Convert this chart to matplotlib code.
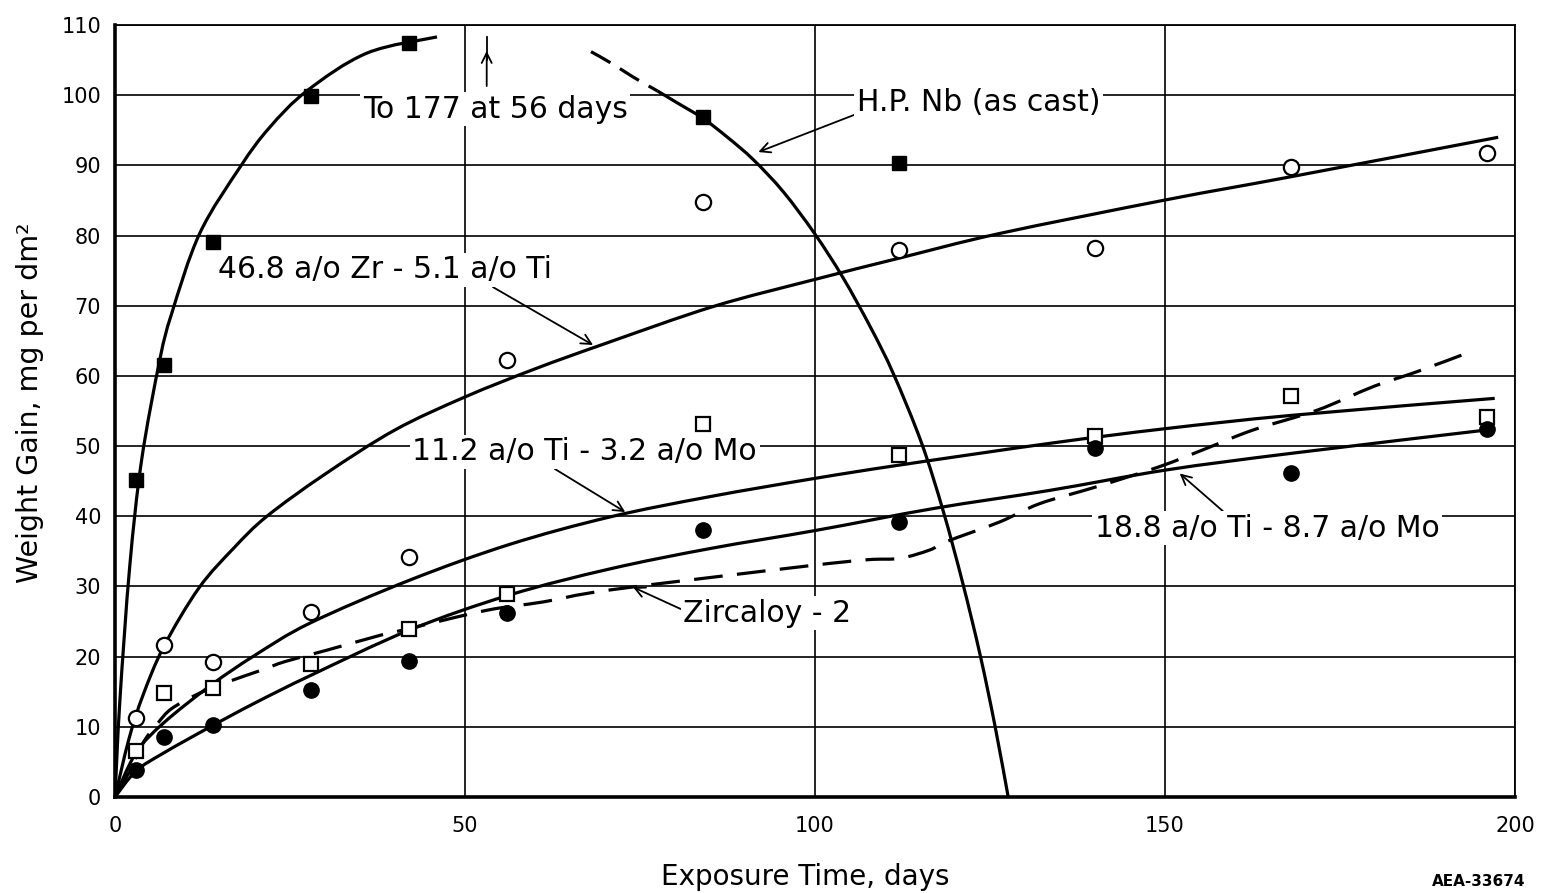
import numpy as np
import matplotlib
matplotlib.use("Agg")
import matplotlib.pyplot as plt
from matplotlib.path import Path
from matplotlib.patches import PathPatch

# measured points (days, mg per dm2)
nb_days = [3, 7, 14, 28, 42, 84, 112]
nb_gain = [45.2, 61.5, 79.1, 99.9, 107.4, 96.9, 90.4]

zrti_days = [3, 7, 14, 28, 42, 56, 84, 112, 140, 168, 196]
zrti_gain = [11.2, 21.7, 19.3, 26.4, 34.2, 62.3, 84.8, 77.9, 78.2, 89.8, 91.7]

ti11_days = [3, 7, 14, 28, 42, 56, 84, 112, 140, 168, 196]
ti11_gain = [6.5, 14.8, 15.5, 19.0, 23.9, 28.9, 53.2, 48.7, 51.4, 57.1, 54.2]

ti18_days = [3, 7, 14, 28, 42, 56, 84, 112, 140, 168, 196]
ti18_gain = [3.8, 8.6, 10.2, 15.2, 19.4, 26.2, 38.0, 39.2, 49.7, 46.2, 52.5]

# curves
nb_rise_x = [0, 0.7, 2.1, 3.8, 6.4, 8.1, 12.1, 17.9, 22, 27.4, 36, 46]
nb_rise_y = [0, 13.8, 32.8, 48, 62.3, 68.9, 80.3, 89.8, 95.3, 100.6, 106.0, 108.3]
nb_dash_x = [68, 71, 74, 77.5]
nb_dash_y = [106.2, 104.5, 102.6, 100.6]
nb_fall_x = [77.5, 80.5, 84, 87.5, 91.2, 95.5, 100, 104, 108, 111.2, 115.2, 118.3, 121.1, 123.6, 125.7, 127.6]
nb_fall_y = [100.6, 98.8, 96.7, 94.0, 90.8, 86.2, 80.2, 74.0, 66.8, 60.3, 50.5, 40.8, 30.5, 20.2, 10.2, 0]

zrti_cx = [0, 2, 4, 7, 12, 17, 21.7, 30, 40, 50, 60, 70, 85.5, 99.8, 112.1, 126.4, 150.2, 168.1, 197.6]
zrti_cy = [0, 8.3, 14.5, 21.5, 29.8, 35.5, 40, 46, 52.3, 57, 61, 64.6, 69.9, 73.7, 76.8, 80.3, 85.1, 88.4, 94.0]

ti11_cx = [0, 3, 7, 13.8, 20, 27.9, 42.1, 56.4, 70.7, 85, 100, 112.1, 133.6, 150.2, 168.3, 197.1]
ti11_cy = [0, 6.3, 10.6, 16.0, 20.2, 24.8, 30.9, 36.0, 39.9, 42.8, 45.4, 47.3, 50.4, 52.5, 54.4, 56.8]

ti18_cx = [0, 3, 7, 13.8, 20, 27.9, 42.1, 56.4, 70.7, 85, 100.2, 116.9, 133.6, 150.2, 168.3, 196]
ti18_cy = [0, 3.7, 6.3, 10.1, 13.4, 17.3, 23.8, 28.8, 32.5, 35.4, 38.0, 41.1, 43.7, 46.6, 49.0, 52.3]

zirc_x = [0, 2, 4, 6.1, 8.1, 12.1, 16.1, 21, 24.3, 30.2, 38.1, 41.2, 53.1, 61.2, 70.7, 97.9, 107.4,
          112.1, 116.4, 118.8, 126.4, 132.1, 140.2, 149.3, 156, 162.6, 171.7, 179.8, 186, 193.8]
zirc_y = [0, 3.5, 7.7, 10.5, 12.6, 14.8, 16.4, 18.1, 19.3, 20.9, 23.1, 23.8, 26.6, 27.8, 29.5, 32.8, 33.8,
          34.0, 35.2, 36.4, 39.2, 41.8, 44.2, 47.1, 49.7, 52.3, 55.1, 58.5, 60.6, 63.5]

xticks = [0, 50, 100, 150, 200]
yticks = list(range(0, 111, 10))


def smooth(xs, ys):
    # catmull-rom through the read points, drawn as bezier segments
    p = np.column_stack([xs, ys]).astype(float)
    verts = [p[0]]
    codes = [Path.MOVETO]
    for i in range(len(p) - 1):
        p0 = p[i - 1] if i > 0 else p[i]
        p3 = p[i + 2] if i + 2 < len(p) else p[i + 1]
        verts += [p[i] + (p[i + 1] - p0) / 6, p[i + 1] - (p3 - p[i]) / 6, p[i + 1]]
        codes += [Path.CURVE4] * 3
    return Path(verts, codes)


def curve(ax, xs, ys, ls='-'):
    ax.add_patch(PathPatch(smooth(xs, ys), fill=False, edgecolor='black', lw=2.3,
                           linestyle=ls, zorder=3, capstyle='butt'))


plt.rcParams['font.family'] = ['DejaVu Sans']

fig = plt.figure(figsize=(15.47, 8.93), dpi=100)
ax = fig.add_axes([115 / 1547, 1 - 797 / 893, 1400 / 1547, 772 / 893])
ax.set_xlim(0, 200)
ax.set_ylim(0, 110)

ax.set_xticks(xticks)
ax.set_yticks(yticks)
ax.tick_params(length=0, labelsize=15)
ax.tick_params(axis='y', pad=10)
ax.tick_params(axis='x', pad=14)
ax.grid(True, color='black', lw=1.2, zorder=0)
ax.set_axisbelow(True)
for s in ['left', 'bottom']:
    ax.spines[s].set_linewidth(2.6)
for s in ['top', 'right']:
    ax.spines[s].set_linewidth(1.3)

k = 'black'
curve(ax, nb_rise_x, nb_rise_y)
curve(ax, nb_dash_x, nb_dash_y, ls=(0, (7, 3.5)))
curve(ax, nb_fall_x, nb_fall_y)
curve(ax, zrti_cx, zrti_cy)
curve(ax, ti11_cx, ti11_cy)
curve(ax, ti18_cx, ti18_cy)
curve(ax, zirc_x, zirc_y, ls=(0, (9, 4.5)))

ax.plot(nb_days, nb_gain, 's', color=k, ms=10, zorder=4)
ax.plot(zrti_days, zrti_gain, 'o', mfc='white', mec=k, mew=1.6, ms=11, zorder=4)
ax.plot(ti11_days, ti11_gain, 's', mfc='white', mec=k, mew=1.6, ms=10, zorder=4)
ax.plot(ti18_days, ti18_gain, 'o', color=k, ms=11, zorder=4)

box = dict(facecolor='white', edgecolor='none', pad=2)
fs = 21.5
arr = dict(arrowstyle='->', lw=1.3, color=k, mutation_scale=18, shrinkA=0, shrinkB=0)
ax.text(54.3, 98.0, "To 177 at 56 days", fontsize=fs, ha='center', va='center', bbox=box, zorder=2)
ax.annotate("", xy=(53.1, 106.3), xytext=(53.1, 101.3), arrowprops=arr, zorder=2)
ax.plot([53.1, 53.1], [105, 108.3], color=k, lw=1.3, zorder=2)

ax.annotate("H.P. Nb (as cast)", xy=(91.9, 91.9), xytext=(106.0, 99.0), fontsize=fs,
            ha='left', va='center', bbox=box, zorder=2,
            arrowprops=dict(arr, relpos=(0, 0.1)))
ax.annotate("46.8 a/o Zr - 5.1 a/o Ti", xy=(68.3, 64.4), xytext=(14.7, 75.1), fontsize=fs,
            ha='left', va='center', bbox=box, zorder=2,
            arrowprops=dict(arr, relpos=(0.81, 0)))
ax.annotate("11.2 a/o Ti - 3.2 a/o Mo", xy=(72.9, 40.6), xytext=(42.5, 49.2), fontsize=fs,
            ha='left', va='center', bbox=box, zorder=2,
            arrowprops=dict(arr, relpos=(0.4, 0)))
ax.annotate("Zircaloy - 2", xy=(74.0, 29.9), xytext=(81.2, 26.2), fontsize=fs,
            ha='left', va='center', bbox=box, zorder=2,
            arrowprops=dict(arr, relpos=(0, 0.6)))
ax.annotate("18.8 a/o Ti - 8.7 a/o Mo", xy=(152.1, 46.1), xytext=(164.6, 38.3), fontsize=fs,
            ha='center', va='center', bbox=box, zorder=2,
            arrowprops=dict(arr, relpos=(0.38, 1)))

fig.text(30 / 1547, 1 - 403 / 893, "Weight Gain, mg per dm²", fontsize=20.5, rotation=90,
         ha='center', va='center')
fig.text(805 / 1547, 1 - 877 / 893, "Exposure Time, days", fontsize=20, ha='center', va='center')
fig.text(1525 / 1547, 1 - 882 / 893, "AEA-33674", fontsize=11, fontweight='bold',
         ha='right', va='center')

fig.savefig("out.png", dpi=100)
